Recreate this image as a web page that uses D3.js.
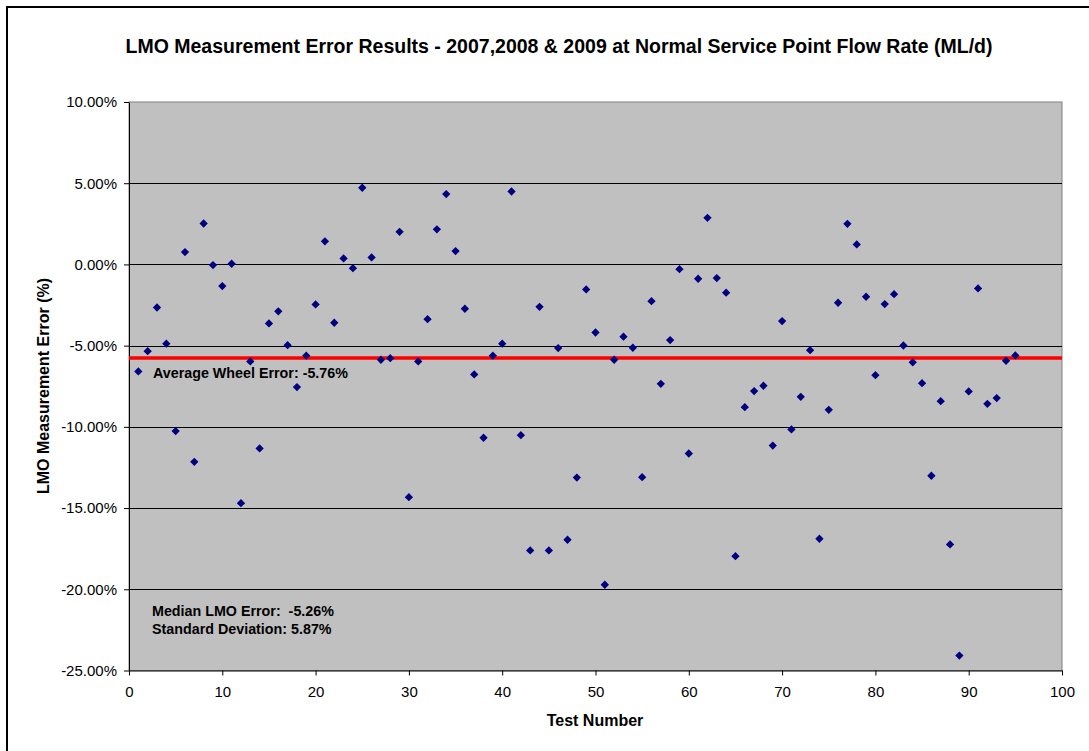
<!DOCTYPE html>
<html>
<head>
<meta charset="utf-8">
<script src="https://cdn.jsdelivr.net/npm/d3@7"></script>
<style>
  body { margin: 0; background: #fff; }
  svg { display: block; font-family: Arial, "Liberation Sans", sans-serif; }
  text { white-space: pre; }
</style>
</head>
<body>
<div id="chart"></div>
<script>
// data (percent)
var testNumbers = d3.range(1, 96);
var errorValues = [
  -6.59, -5.34, -2.65, -4.88, -10.26, 0.76, -12.15, 2.52, -0.04, -1.33,
  0.04, -14.70, -5.97, -11.33, -3.63, -2.89, -4.97, -7.55, -5.62, -2.46,
  1.42, -3.59, 0.37, -0.23, 4.72, 0.43, -5.87, -5.77, 2.01, -14.33,
  -5.97, -3.37, 2.16, 4.33, 0.82, -2.73, -6.77, -10.67, -5.62, -4.88,
  4.49, -10.51, -17.61, -2.61, -17.61, -5.15, -16.95, -13.12, -1.54, -4.19,
  -19.72, -5.87, -4.45, -5.13, -13.10, -2.26, -7.35, -4.66, -0.29, -11.64,
  -0.88, 2.87, -0.84, -1.74, -17.96, -8.79, -7.80, -7.47, -11.15, -3.49,
  -10.16, -8.15, -5.28, -16.89, -8.95, -2.36, 2.50, 1.23, -1.99, -6.82,
  -2.44, -1.83, -4.99, -6.03, -7.31, -13.01, -8.42, -17.24, -24.08, -7.82,
  -1.48, -8.58, -8.23, -5.93, -5.60
];
var averageError = -5.76;
var xTicks = [0, 10, 20, 30, 40, 50, 60, 70, 80, 90, 100];
var yTicks = [10, 5, 0, -5, -10, -15, -20, -25];

var chartTitle = "LMO Measurement Error Results - 2007,2008 & 2009 at Normal Service Point Flow Rate (ML/d)";
var xTitle = "Test Number";
var yTitle = "LMO Measurement Error (%)";
var avgLabel = "Average Wheel Error: -5.76%";
var statLabels = ["Median LMO Error:  -5.26%", "Standard Deviation: 5.87%"];

// chart setup
var svgWidth = 1089;
var svgHeight = 751;
var margin = { top: 102, left: 129 };
var width = 1062 - margin.left;
var height = 670.5 - margin.top;

var svg = d3.select("#chart")
  .append("svg")
  .attr("width", svgWidth)
  .attr("height", svgHeight);

// outer chart frame (runs past the right and bottom edges)
svg.append("rect")
  .attr("x", 7)
  .attr("y", 7)
  .attr("width", 1200)
  .attr("height", 900)
  .attr("fill", "none")
  .attr("stroke", "#000")
  .attr("stroke-width", 2);

svg.append("text")
  .attr("x", 559)
  .attr("y", 52.5)
  .attr("text-anchor", "middle")
  .attr("font-size", "19.5px")
  .attr("font-weight", "bold")
  .text(chartTitle);

var chartGroup = svg.append("g")
  .attr("transform", `translate(${margin.left}, ${margin.top})`);

var xScale = d3.scaleLinear().domain([0, 100]).range([0, width]);
var yScale = d3.scaleLinear().domain([-25, 10]).range([height, 0]);

// plot area
chartGroup.append("rect")
  .attr("width", width)
  .attr("height", height)
  .attr("fill", "#c0c0c0")
  .attr("stroke", "#808080")
  .attr("stroke-width", 1);

// gridlines
chartGroup.selectAll(".grid")
  .data(yTicks.filter(d => d > -25 && d < 10))
  .enter()
  .append("line")
  .attr("x1", 0)
  .attr("x2", width)
  .attr("y1", d => Math.round(yScale(d)) + 0.5)
  .attr("y2", d => Math.round(yScale(d)) + 0.5)
  .attr("stroke", "#000")
  .attr("stroke-width", 1);

// axes
var bottomAxis = d3.axisBottom(xScale)
  .tickValues(xTicks)
  .tickSize(5)
  .tickSizeOuter(0)
  .tickPadding(11);
var leftAxis = d3.axisLeft(yScale)
  .tickValues(yTicks)
  .tickSize(5)
  .tickSizeOuter(0)
  .tickPadding(7)
  .tickFormat(d => d3.format(".2f")(d).replace("\u2212", "-") + "%");

var xAxisG = chartGroup.append("g")
  .attr("transform", `translate(0, ${height})`)
  .call(bottomAxis);
var yAxisG = chartGroup.append("g")
  .call(leftAxis);

[xAxisG, yAxisG].forEach(function(g) {
  g.selectAll("text")
    .attr("font-size", "15px")
    .attr("font-family", "Arial, 'Liberation Sans', sans-serif")
    .attr("fill", "#000");
  g.selectAll("line").attr("stroke", "#000");
  g.select(".domain").attr("stroke", "#000");
});

// average line
chartGroup.append("line")
  .attr("x1", 0)
  .attr("x2", width)
  .attr("y1", yScale(averageError))
  .attr("y2", yScale(averageError))
  .attr("stroke", "#ff0000")
  .attr("stroke-width", 3.5);

// points
var diamond = d3.symbol().type(d3.symbolDiamond2).size(44);
chartGroup.selectAll(".pt")
  .data(errorValues)
  .enter()
  .append("path")
  .attr("class", "pt")
  .attr("d", diamond)
  .attr("transform", (d, i) => `translate(${xScale(testNumbers[i])}, ${yScale(d)})`)
  .attr("fill", "#000080");

// annotations
svg.append("text")
  .attr("x", 153)
  .attr("y", 377.5)
  .attr("font-size", "14.3px")
  .attr("font-weight", "bold")
  .text(avgLabel);

svg.selectAll(".stat")
  .data(statLabels)
  .enter()
  .append("text")
  .attr("class", "stat")
  .attr("x", 152)
  .attr("y", (d, i) => 615.5 + i * 18.5)
  .attr("font-size", "14.3px")
  .attr("font-weight", "bold")
  .text(d => d);

// axis titles
svg.append("text")
  .attr("x", 595)
  .attr("y", 725.5)
  .attr("text-anchor", "middle")
  .attr("font-size", "16px")
  .attr("font-weight", "bold")
  .text(xTitle);

svg.append("text")
  .attr("transform", "rotate(-90)")
  .attr("x", -386)
  .attr("y", 49)
  .attr("text-anchor", "middle")
  .attr("font-size", "16px")
  .attr("font-weight", "bold")
  .text(yTitle);
</script>
</body>
</html>
